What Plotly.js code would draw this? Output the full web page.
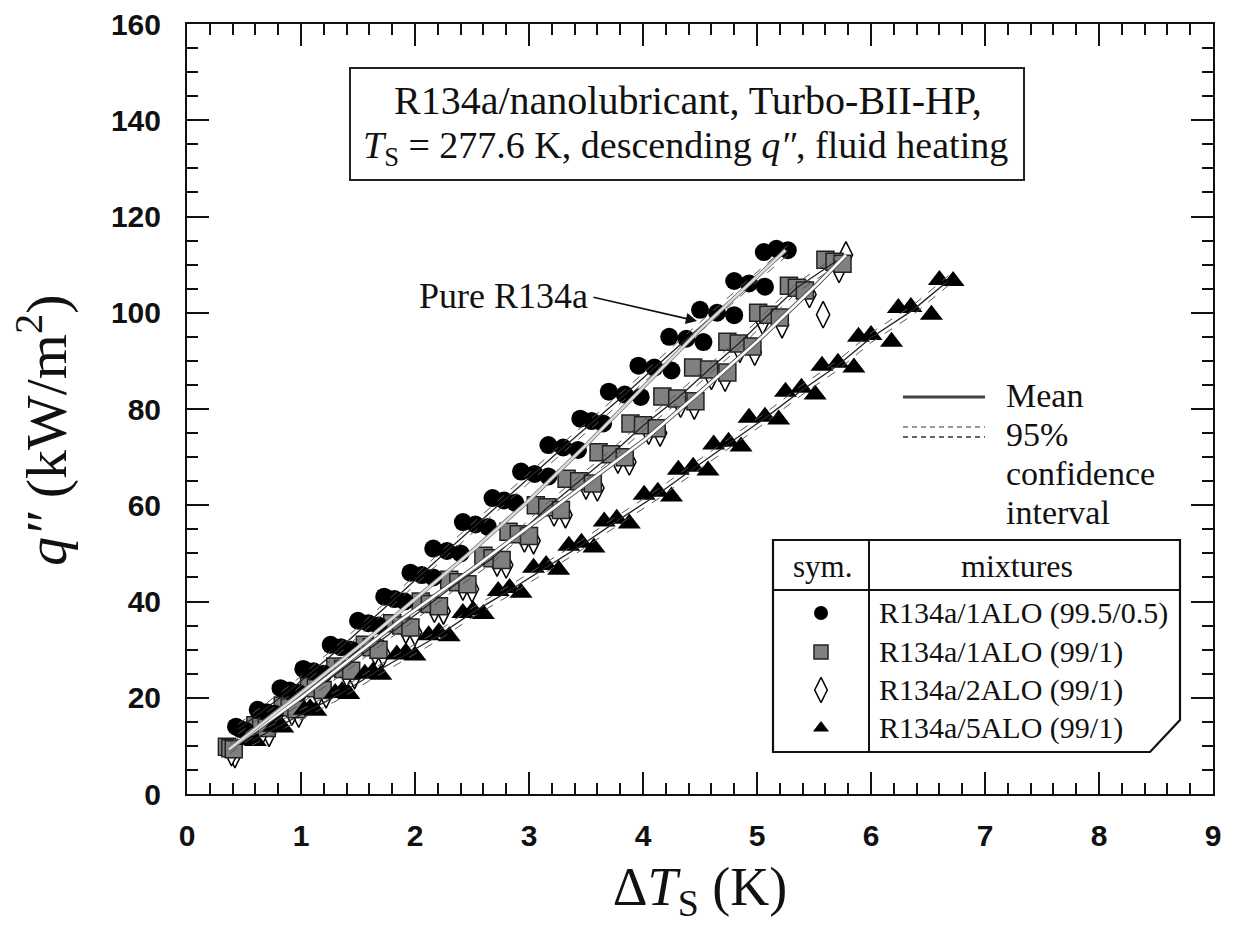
<!DOCTYPE html>
<html><head><meta charset="utf-8">
<script src="https://cdn.plot.ly/plotly-3.0.1.min.js"></script>
<style>body{margin:0;background:#fff}#chart{width:1239px;height:930px}</style>
</head><body><div id="chart"></div>
<script>
// ---- data ----
const circX = [5.06,5.17,5.27, 4.80,4.93,5.07, 4.50,4.65,4.80, 4.23,4.38,4.53, 3.96,4.10,4.25, 3.70,3.84,3.98, 3.45,3.55,3.65, 3.17,3.30,3.43, 2.93,3.05,3.17, 2.68,2.78,2.88, 2.42,2.53,2.64, 2.16,2.28,2.40, 1.96,2.06,2.16, 1.73,1.82,1.91, 1.50,1.59,1.68, 1.26,1.35,1.44, 1.02,1.11,1.20, 0.82,0.90,0.98, 0.62,0.70,0.77, 0.43,0.47,0.51];
const circQ = [112.6,113.3,113.0, 106.6,106.1,105.4, 100.6,100.0,99.5, 95.0,94.6,93.9, 89.0,88.6,88.0, 83.6,83.0,82.5, 78.0,77.5,77.0, 72.5,72.0,71.5, 67.0,66.5,66.0, 61.5,61.0,60.5, 56.5,56.0,55.5, 51.0,50.5,50.0, 46.0,45.5,45.0, 41.0,40.5,40.0, 36.0,35.5,35.0, 31.0,30.5,30.0, 26.0,25.5,25.0, 22.0,21.5,21.0, 17.5,17.0,16.7, 14.0,13.5,13.2];

const sqX = [5.60,5.68,5.75, 5.28,5.35,5.42, 5.01,5.10,5.20, 4.74,4.84,4.96, 4.44,4.58,4.74, 4.17,4.30,4.46, 3.89,4.00,4.12, 3.61,3.72,3.84, 3.33,3.44,3.56, 3.06,3.16,3.28, 2.82,2.91,3.00, 2.60,2.68,2.76, 2.30,2.38,2.46, 2.05,2.13,2.21, 1.80,1.88,1.96, 1.56,1.62,1.68, 1.30,1.37,1.44, 1.07,1.13,1.19, 0.84,0.90,0.96, 0.60,0.65,0.70, 0.35,0.38,0.41];
const sqQ = [111.0,110.6,110.2, 105.6,105.2,104.6, 100.0,99.6,99.0, 94.0,93.6,93.0, 88.6,88.2,87.6, 82.6,82.2,81.6, 77.0,76.6,76.0, 71.0,70.6,70.0, 65.5,65.0,64.5, 60.0,59.6,59.0, 54.5,54.0,53.6, 49.5,49.0,48.6, 44.5,44.0,43.6, 40.0,39.5,39.0, 35.5,35.0,34.6, 31.0,30.5,30.0, 26.5,26.0,25.6, 22.4,22.0,21.6, 18.4,18.0,17.6, 14.3,14.0,13.7, 9.8,9.5,9.3];

const diaX = [5.78,5.72, 5.58,5.46, 5.22,5.05, 4.98,4.85, 4.72,4.60, 4.45,4.33, 4.15,4.05, 3.88,3.78, 3.60,3.50, 3.32,3.22, 3.04,2.96, 2.80,2.72, 2.50,2.42, 2.25,2.17, 2.00,1.92, 1.72,1.65, 1.47,1.40, 1.22,1.15, 0.98,0.92, 0.72,0.66, 0.42,0.39];
const diaQ = [112.0,109.0, 99.6,103.8, 97.5,98.2, 91.8,92.4, 86.4,86.8, 80.6,81.0, 75.0,75.4, 69.0,69.4, 63.6,64.0, 58.0,58.4, 52.6,53.0, 47.6,48.0, 42.6,43.0, 38.0,38.4, 33.6,34.0, 29.2,29.6, 24.6,25.0, 20.6,21.0, 16.6,17.0, 12.6,13.0, 8.2,8.6];

const triX = [6.60,6.72, 6.24,6.35,6.53, 5.89,6.00,6.18, 5.57,5.71,5.85, 5.25,5.39,5.51, 4.93,5.07,5.19, 4.62,4.75,4.86, 4.31,4.44,4.57, 4.01,4.13,4.25, 3.66,3.77,3.88, 3.35,3.46,3.57, 3.04,3.15,3.26, 2.73,2.83,2.93, 2.42,2.51,2.60, 2.12,2.21,2.30, 1.84,1.92,2.00, 1.56,1.63,1.70, 1.30,1.36,1.42, 1.03,1.08,1.13, 0.76,0.80,0.84, 0.55,0.60];
const triQ = [106.8,106.6, 101.0,101.2,99.6, 95.0,95.4,94.0, 89.0,89.6,88.6, 83.6,84.4,83.0, 78.2,78.4,77.8, 72.6,73.2,72.2, 67.4,68.0,67.2, 62.2,62.8,61.8, 56.6,57.2,56.2, 51.6,52.2,51.2, 47.0,47.6,46.6, 42.2,42.8,41.8, 37.6,38.2,37.4, 33.0,33.6,32.8, 29.0,29.4,28.8, 25.0,25.4,24.8, 21.0,21.4,20.8, 17.5,17.8,17.3, 14.0,14.2,13.8, 11.2,11.0];

// mean curves
const circMeanX = [0.45,0.90,1.35,1.82,2.28,2.78,3.30,3.84,4.38,4.93,5.27];
const circMeanQ = [13.5,21.5,30.5,40.5,50.5,61.0,72.0,83.0,94.5,106.0,113.0];
const sqMeanX = [0.38,0.65,0.90,1.13,1.37,1.62,1.88,2.13,2.38,2.68,2.91,3.16,3.44,3.72,4.00,4.30,4.58,4.84,5.10,5.35,5.70];
const sqMeanQ = [9.5,14.0,18.0,22.0,26.0,30.5,35.0,39.5,44.0,49.0,54.0,59.5,65.0,70.5,76.5,82.2,88.2,93.6,99.6,105.2,110.8];
const diaMeanX = [0.37,1.00,1.86,2.50,3.00,3.50,4.02,4.50,5.00,5.54,5.78];
const diaMeanQ = [9.3,20.0,35.9,46.7,55.6,64.5,73.7,83.5,94.0,106.2,112.0];
const triMeanX = [0.57,0.80,1.08,1.36,1.63,1.92,2.21,2.51,2.83,3.15,3.46,3.77,4.13,4.44,4.75,5.07,5.38,5.71,6.00,6.37,6.68];
const triMeanQ = [11.1,14.0,17.5,21.0,25.0,29.0,33.0,37.8,42.3,47.1,51.7,56.7,62.3,67.6,72.7,78.1,83.7,89.1,94.8,100.6,106.7];
const pureX = [0.37,1.00,1.50,2.00,2.50,3.00,3.50,4.00,4.50,5.00,5.25];
const pureQ = [9.3,21.0,30.5,40.5,50.5,61.0,72.5,84.5,96.5,107.5,113.0];
const ciHalf = 1.0; // half-width of 95 % band, kW/m2

const seriesNames = ['R134a/1ALO (99.5/0.5)','R134a/1ALO (99/1)','R134a/2ALO (99/1)','R134a/5ALO (99/1)'];
const xTicks = [0,1,2,3,4,5,6,7,8,9];
const yTicks = [0,20,40,60,80,100,120,140,160];

// ---- pixel helpers for layout decoration ----
const L=187, R=1213, B=794, T=24;
const X = px => (px-L)/(R-L)*9;
const Y = py => (B-py)/(B-T)*160;
const serif = 'Liberation Serif, Times New Roman, serif';

const sym = {
  circ:{symbol:'circle', size:18, color:'black', line:{width:0}},
  sq:{symbol:'square', size:17, color:'#808080', line:{color:'#222', width:1.5}},
  dia:{symbol:'diamond-tall', size:19, color:'white', line:{color:'black', width:1.5}},
  tri:{symbol:'triangle-up', size:20, color:'black', line:{width:0}}
};

const off = (arr, d) => arr.map(v => v + d);
const traces = [];
const mk = (x,y,m) => ({x, y, type:'scatter', mode:'markers', marker:m, showlegend:false, hoverinfo:'skip'});
const ln = (x,y,c,w,dash) => ({x, y, type:'scatter', mode:'lines', line:{color:c, width:w, dash:dash||'solid'}, showlegend:false, hoverinfo:'skip'});

traces.push(mk(diaX, diaQ, sym.dia));
traces.push(mk(sqX, sqQ, sym.sq));
traces.push(mk(triX, triQ, sym.tri));
traces.push(mk(circX, circQ, sym.circ));

// mean + 95% CI lines
[[circMeanX,circMeanQ],[sqMeanX,sqMeanQ],[triMeanX,triMeanQ]].forEach(([mx,mq])=>{
  traces.push(ln(mx, off(mq, ciHalf), '#555', 1, 'dash'));
  traces.push(ln(mx, off(mq, -ciHalf), '#555', 1, 'dash'));
  traces.push(ln(mx, mq, '#222', 1.3));
});
traces.push(ln(diaMeanX, diaMeanQ, '#555', 4.5));
traces.push(ln(diaMeanX, diaMeanQ, 'white', 2.6));
traces.push(ln(pureX, pureQ, '#777', 4));
traces.push(ln(pureX, pureQ, '#dcdcdc', 2.4));

// legend-table symbols
const legRowsY = [613,652,690,728];
const legSizes = [14,14,18,14];
[sym.circ, sym.sq, sym.dia, sym.tri].forEach((m,i)=>{
  traces.push({x:[X(821)], y:[Y(legRowsY[i])], type:'scatter', mode:'markers', cliponaxis:false,
    marker:Object.assign({}, m, {size: legSizes[i]}), showlegend:false, hoverinfo:'skip'});
});

const shapes = [
  {type:'rect', xref:'x', yref:'y', x0:X(350), x1:X(1024), y0:Y(68), y1:Y(180), line:{color:'#222', width:2}, fillcolor:'white', layer:'below'},
  {type:'path', xref:'x', yref:'y', layer:'below', fillcolor:'white', line:{color:'#111', width:2.2},
    path:`M ${X(773)},${Y(540)} L ${X(1180)},${Y(540)} L ${X(1180)},${Y(720)} L ${X(1150)},${Y(752)} L ${X(773)},${Y(752)} Z`},
  {type:'line', xref:'x', yref:'y', x0:X(773), x1:X(1180), y0:Y(590), y1:Y(590), line:{color:'#111', width:2}},
  {type:'line', xref:'x', yref:'y', x0:X(869), x1:X(869), y0:Y(540), y1:Y(752), line:{color:'#111', width:2}},
  {type:'line', xref:'x', yref:'y', x0:X(903), x1:X(985), y0:Y(397), y1:Y(397), line:{color:'#444', width:3}},
  {type:'line', xref:'x', yref:'y', x0:X(903), x1:X(985), y0:Y(427), y1:Y(427), line:{color:'#999', width:2, dash:'5px,4px'}},
  {type:'line', xref:'x', yref:'y', x0:X(903), x1:X(985), y0:Y(437), y1:Y(437), line:{color:'#666', width:2, dash:'5px,4px'}}
];

const ann = (px,py,text,size,anchor) => ({xref:'x', yref:'y', x:X(px), y:Y(py), text, showarrow:false,
  xanchor:anchor||'center', yanchor:'middle', font:{family:serif, size, color:'#111'}});
const annotations = [
  ann(688,100,'R134a/nanolubricant, Turbo-BII-HP,',40),
  ann(685,148,'<i>T</i><sub>S</sub> = 277.6 K, descending <i>q″</i>, fluid heating',38),
  ann(503,296,'Pure R134a',36),
  {xref:'x', yref:'y', x:X(697), y:Y(321), axref:'x', ayref:'y', ax:X(592), ay:Y(297), text:'', showarrow:true,
    arrowhead:2, arrowsize:1.4, arrowwidth:1.6, arrowcolor:'#111'},
  ann(1004,395,'Mean',34,'left'),
  ann(1004,434,'95%',34,'left'),
  ann(1004,473,'confidence',34,'left'),
  ann(1004,512,'interval',34,'left'),
  ann(822,566,'sym.',31),
  ann(1017,566,'mixtures',32),
  // y-axis title placed to match the reference position
  {xref:'paper', yref:'y', x:X(42)/9, y:Y(430), text:'<i>q″</i> (kW/m<sup>2</sup>)', textangle:-90, showarrow:false,
    xanchor:'center', yanchor:'middle', font:{family:serif, size:58, color:'#111'}}
];
seriesNames.forEach((s,i)=>annotations.push(ann(877,legRowsY[i],s,30,'left')));

const axisCommon = {showgrid:false, zeroline:false, showline:true, linecolor:'#111', linewidth:2, mirror:'ticks',
  ticks:'inside', ticklen:22, tickwidth:2, tickcolor:'#111',
  tickfont:{family:'Liberation Sans, Arial, sans-serif', size:30, color:'#111', weight:'bold'}};

const layout = {
  width:1239, height:930, paper_bgcolor:'white', plot_bgcolor:'white',
  margin:{l:L, r:1239-R, t:T, b:930-B},
  xaxis:Object.assign({}, axisCommon, {range:[0,9], tickvals:xTicks, ticktext:xTicks.map(String), ticklabelstandoff:14,
    minor:{dtick:0.2, ticks:'inside', ticklen:11, tickwidth:2, tickcolor:'#111'},
    title:{text:'Δ<i>T</i><sub>S</sub> (K)', font:{family:serif, size:54, color:'#111'}, standoff:16}}),
  yaxis:Object.assign({}, axisCommon, {range:[0,160], tickvals:yTicks, ticktext:yTicks.map(String), ticklabelstandoff:18,
    minor:{dtick:5, ticks:'inside', ticklen:11, tickwidth:2, tickcolor:'#111'},
    title:{text:''}}),
  shapes, annotations
};

Plotly.newPlot('chart', traces, layout, {staticPlot:true});
</script></body></html>
